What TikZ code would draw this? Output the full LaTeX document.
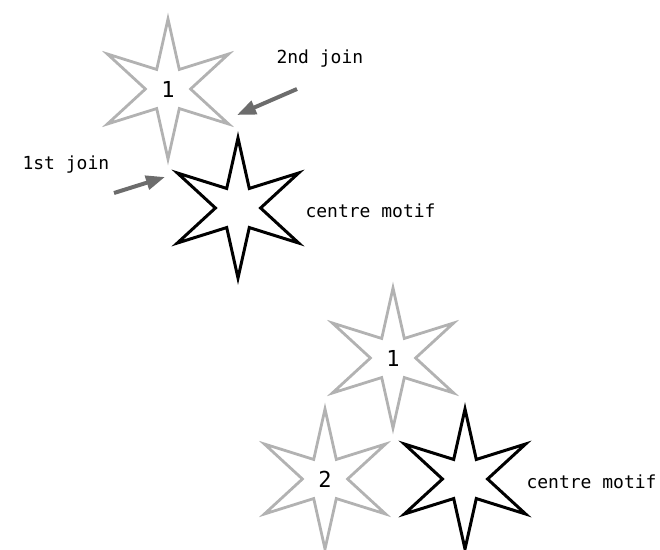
\documentclass[tikz,border=0pt]{standalone}
\usepackage{fontspec}
\setmonofont{DejaVu Sans Mono}
\usetikzlibrary{arrows.meta,shapes.geometric}
\definecolor{motifgray}{RGB}{178,178,178}
\definecolor{arrowgray}{RGB}{108,108,108}

\begin{document}
\begin{tikzpicture}[x=1pt, y=-1pt,
    motif/.style={star, star points=6, star point ratio=3.1, minimum size=140pt,
      inner sep=0pt, line width=2.8pt},
    joinarrow/.style={-{Triangle[length=19pt,width=14pt]}, arrowgray, line width=4pt},
    lbl/.style={font=\fontsize{18}{20}\ttfamily, anchor=base west},
    num/.style={font=\fontsize{22}{24}\ttfamily}]
  \useasboundingbox (0,0) rectangle (660,549);
  % one copy joined to the centre motif
  \node[motif, draw=motifgray, num] (upone) at (168,89) {1};
  \node[motif, draw=black, line width=3pt] (upcentre) at (238,208) {};
  \node[lbl] (uplabel) at (302,217) {centre motif};
  \node[lbl] (secondtext) at (273,63) {2nd join};
  \node[lbl] (firsttext) at (19,169) {1st join};
  \coordinate (secondtail) at (297,89);
  \coordinate (secondtip) at (237,115);
  \coordinate (firsttail) at (114,193);
  \coordinate (firsttip) at (165,177);
  \draw[joinarrow] (secondtail) -- (secondtip);
  \draw[joinarrow] (firsttail) -- (firsttip);
  % two copies joined to the centre motif
  \node[motif, draw=motifgray, num] (lowone) at (393,358) {1};
  \node[motif, draw=motifgray, num] (lowtwo) at (325,479) {2};
  \node[motif, draw=black, line width=3pt] (lowcentre) at (465,479) {};
  \node[lbl] (lowlabel) at (523,488) {centre motif};
\end{tikzpicture}
\end{document}
